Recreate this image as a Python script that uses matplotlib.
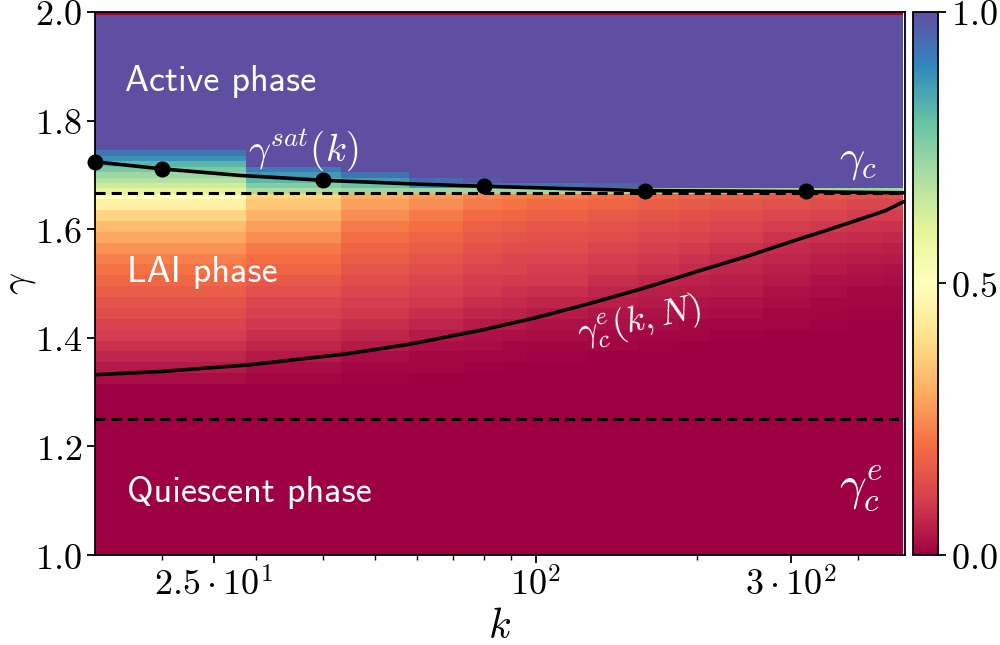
import numpy as np
import matplotlib
matplotlib.use("Agg")
import matplotlib.pyplot as plt
from matplotlib.ticker import FixedLocator, FixedFormatter, LogLocator, NullFormatter

plt.rcParams['mathtext.fontset'] = 'cm'
plt.rcParams['axes.linewidth'] = 1.3

# column edges in k (cells of the heatmap)
k_edges = [10, 28.7, 43.3, 57.9, 73.1, 86.6, 96.4, 125, 155, 185, 212, 266, 325, 381, 445, 486]

# LAI rows, gamma centres 1.305 ... 1.645 (step 0.02), one value per k column
lai_values = [
    [0.00, 0.00, 0.00, 0.00, 0.00, 0.00, 0.00, 0.00, 0.00, 0.00, 0.00, 0.00, 0.00, 0.00, 0.00],
    [0.02, 0.01, 0.005, 0.00, 0.00, 0.00, 0.00, 0.00, 0.00, 0.00, 0.00, 0.00, 0.00, 0.00, 0.00],
    [0.04, 0.02, 0.01, 0.01, 0.005, 0.00, 0.00, 0.00, 0.00, 0.00, 0.00, 0.00, 0.00, 0.00, 0.00],
    [0.06, 0.04, 0.02, 0.015, 0.01, 0.01, 0.005, 0.00, 0.00, 0.00, 0.00, 0.00, 0.00, 0.00, 0.00],
    [0.08, 0.06, 0.04, 0.025, 0.02, 0.015, 0.01, 0.01, 0.005, 0.00, 0.00, 0.00, 0.00, 0.00, 0.00],
    [0.10, 0.075, 0.06, 0.04, 0.03, 0.025, 0.02, 0.015, 0.01, 0.01, 0.005, 0.00, 0.00, 0.00, 0.00],
    [0.11, 0.09, 0.075, 0.06, 0.045, 0.04, 0.03, 0.025, 0.02, 0.015, 0.01, 0.01, 0.005, 0.00, 0.00],
    [0.13, 0.105, 0.09, 0.075, 0.06, 0.055, 0.045, 0.035, 0.03, 0.025, 0.02, 0.015, 0.01, 0.005, 0.005],
    [0.15, 0.12, 0.105, 0.09, 0.075, 0.07, 0.06, 0.05, 0.04, 0.035, 0.03, 0.02, 0.015, 0.01, 0.01],
    [0.17, 0.14, 0.12, 0.105, 0.09, 0.08, 0.075, 0.06, 0.05, 0.045, 0.04, 0.03, 0.02, 0.015, 0.015],
    [0.19, 0.16, 0.135, 0.12, 0.10, 0.095, 0.09, 0.075, 0.065, 0.055, 0.05, 0.04, 0.03, 0.025, 0.02],
    [0.21, 0.18, 0.15, 0.135, 0.115, 0.11, 0.10, 0.09, 0.08, 0.07, 0.06, 0.05, 0.04, 0.035, 0.03],
    [0.23, 0.20, 0.165, 0.15, 0.13, 0.12, 0.115, 0.10, 0.09, 0.08, 0.07, 0.06, 0.05, 0.045, 0.04],
    [0.26, 0.22, 0.18, 0.165, 0.145, 0.135, 0.13, 0.115, 0.105, 0.095, 0.085, 0.07, 0.06, 0.055, 0.05],
    [0.29, 0.25, 0.20, 0.18, 0.16, 0.15, 0.14, 0.13, 0.12, 0.11, 0.10, 0.085, 0.075, 0.07, 0.065],
    [0.33, 0.28, 0.22, 0.20, 0.175, 0.165, 0.155, 0.145, 0.135, 0.125, 0.115, 0.10, 0.09, 0.085, 0.08],
    [0.38, 0.31, 0.25, 0.22, 0.195, 0.185, 0.175, 0.16, 0.15, 0.14, 0.13, 0.12, 0.11, 0.10, 0.10],
    [0.45, 0.35, 0.28, 0.25, 0.22, 0.21, 0.195, 0.18, 0.17, 0.16, 0.15, 0.14, 0.13, 0.12, 0.12],
]

# rows near gamma_c, gamma centres 1.66 ... 1.74 (step 0.01)
sat_values = [
    [0.50, 0.38, 0.30, 0.27, 0.24, 0.23, 0.22, 0.20, 0.19, 0.18, 0.17, 0.16, 0.15, 0.14, 0.14],
    [0.60, 0.70, 0.72, 0.72, 0.72, 0.72, 0.72, 0.72, 0.72, 0.72, 0.72, 0.72, 0.72, 0.72, 0.72],
    [0.64, 0.76, 0.80, 0.88, 0.93, 0.93, 0.94, 0.96, 1, 1, 1, 1, 1, 1, 1],
    [0.68, 0.82, 0.87, 0.95, 0.98, 1, 1, 1, 1, 1, 1, 1, 1, 1, 1],
    [0.72, 0.87, 0.94, 1, 1, 1, 1, 1, 1, 1, 1, 1, 1, 1, 1],
    [0.77, 0.92, 1, 1, 1, 1, 1, 1, 1, 1, 1, 1, 1, 1, 1],
    [0.82, 1, 1, 1, 1, 1, 1, 1, 1, 1, 1, 1, 1, 1, 1],
    [0.88, 1, 1, 1, 1, 1, 1, 1, 1, 1, 1, 1, 1, 1, 1],
    [0.93, 1, 1, 1, 1, 1, 1, 1, 1, 1, 1, 1, 1, 1, 1],
]
quiescent_value = 0.0   # gamma < 1.295
active_value = 1.0      # 1.745 < gamma < 1.995
top_row_value = 0.0     # gamma = 2.0 row

# gamma_sat(k): simulation points and fitted curve
k_sat_pts = [15, 20, 40, 80, 160, 320]
g_sat_pts = [1.724, 1.711, 1.691, 1.680, 1.671, 1.670]
k_sat_line = [15, 20, 28, 40, 60, 80, 120, 160, 240, 320, 486]
g_sat_line = [1.724, 1.711, 1.699, 1.690, 1.683, 1.679, 1.674, 1.671, 1.670, 1.669, 1.667]

# gamma_c^e(k, N) curve
k_ce = [15, 20, 29, 44, 58, 80, 100, 125, 160, 200, 250, 300, 350, 400, 450, 486]
g_ce = [1.332, 1.338, 1.350, 1.370, 1.388, 1.415, 1.437, 1.462, 1.492, 1.522,
        1.551, 1.577, 1.598, 1.617, 1.634, 1.650]

gamma_c = 5/3
gamma_c_e = 1.25

# build the grid
n_col = len(k_edges) - 1
g_edges = ([0.995] + list(np.round(np.arange(1.295, 1.656, 0.02), 3))
           + list(np.round(np.arange(1.665, 1.746, 0.01), 3)) + [1.995, 2.005])
Z = np.vstack([np.full(n_col, quiescent_value), np.array(lai_values), np.array(sat_values),
               np.full(n_col, active_value), np.full(n_col, top_row_value)])

fig = plt.figure(figsize=(10, 6.45), dpi=100)
ax = fig.add_axes([0.095, 0.1395, 0.81, 0.842])
cax = fig.add_axes([0.913, 0.1395, 0.025, 0.842])

mesh = ax.pcolormesh(k_edges, g_edges, Z, cmap='Spectral', vmin=0, vmax=1,
                     edgecolors='none', antialiased=False)

ax.plot([15, 486], [gamma_c, gamma_c], color='k', lw=2.2, dashes=(3.3, 2.0))
ax.plot([15, 486], [gamma_c_e, gamma_c_e], color='k', lw=2.2, dashes=(3.3, 2.0))
ax.plot(k_sat_line, g_sat_line, '-', color='k', lw=2.6)
ax.plot(k_sat_pts, g_sat_pts, 'o', color='k', ms=10.5, clip_on=False)
ax.plot(k_ce, g_ce, '-', color='k', lw=2.6)

ax.set_xscale('log')
ax.set_xlim(15, 490)
ax.set_ylim(1.0, 2.0)

ax.xaxis.set_major_locator(FixedLocator([25, 100, 300]))
ax.xaxis.set_major_formatter(FixedFormatter([r'$2.5\cdot10^1$', r'$10^2$', r'$3\cdot10^2$']))
ax.xaxis.set_minor_locator(LogLocator(base=10, subs=np.arange(2, 10)))
ax.xaxis.set_minor_formatter(NullFormatter())
yt = [1.0, 1.2, 1.4, 1.6, 1.8, 2.0]
ax.set_yticks(yt)
ax.set_yticklabels([r'$%.1f$' % v for v in yt])
ax.tick_params(axis='both', which='major', labelsize=26, length=6, width=1.3)
ax.tick_params(axis='x', which='minor', length=3.5, width=1)
ax.set_xlabel(r'$k$', fontsize=30, labelpad=1)
ax.set_ylabel(r'$\gamma$', fontsize=28, labelpad=-2)

txt = dict(color='white', fontfamily='cmss10', fontsize=26)
ax.text(17.1, 1.871, 'Active phase', ha='left', va='center', **txt)
ax.text(17.2, 1.521, 'LAI phase', ha='left', va='center', **txt)
ax.text(17.2, 1.116, 'Quiescent phase', ha='left', va='center', **txt)
ax.text(29, 1.746, r'$\gamma^{sat}(k)$', color='white', fontsize=28, ha='left', va='center')
ax.text(400, 1.727, r'$\gamma_c$', color='white', fontsize=32, ha='center', va='center')
ax.text(156, 1.429, r'$\gamma_c^e(k,N)$', color='white', fontsize=26, ha='center', va='center',
        rotation=12)
ax.text(405, 1.123, r'$\gamma_c^e$', color='white', fontsize=34, ha='center', va='center')

cb = fig.colorbar(mesh, cax=cax)
cb.set_ticks([0, 0.5, 1])
cb.set_ticklabels([r'$0.0$', r'$0.5$', r'$1.0$'])
cb.ax.tick_params(labelsize=26, length=6, width=1.3)
cb.outline.set_linewidth(1.3)

fig.savefig('out.png', dpi=100)
